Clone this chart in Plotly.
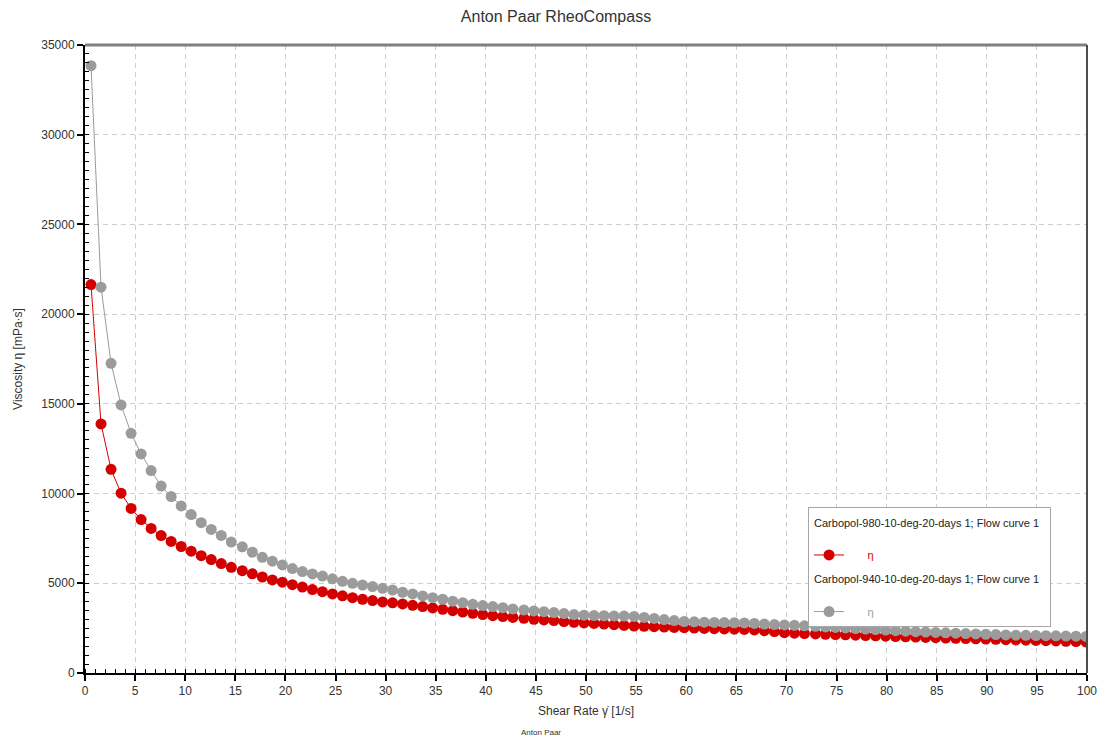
import plotly.graph_objects as go

# Shear rate [1/s]
shear_rate = [
    0.6, 1.6, 2.6, 3.6, 4.6, 5.6, 6.6, 7.6, 8.6, 9.6,
    10.6, 11.6, 12.6, 13.6, 14.6, 15.7, 16.7, 17.7, 18.7, 19.7,
    20.7, 21.7, 22.7, 23.7, 24.7, 25.7, 26.7, 27.7, 28.7, 29.7,
    30.7, 31.7, 32.7, 33.7, 34.7, 35.7, 36.7, 37.7, 38.7, 39.7,
    40.7, 41.7, 42.7, 43.8, 44.8, 45.8, 46.8, 47.8, 48.8, 49.8,
    50.8, 51.8, 52.8, 53.8, 54.8, 55.8, 56.8, 57.8, 58.8, 59.8,
    60.8, 61.8, 62.8, 63.8, 64.8, 65.8, 66.8, 67.8, 68.8, 69.8,
    70.8, 71.8, 72.9, 73.9, 74.9, 75.9, 76.9, 77.9, 78.9, 79.9,
    80.9, 81.9, 82.9, 83.9, 84.9, 85.9, 86.9, 87.9, 88.9, 89.9,
    90.9, 91.9, 92.9, 93.9, 94.9, 95.9, 96.9, 97.9, 98.9, 99.9,
]

# Viscosity [mPa·s], Carbopol-980
visc_980 = [
    21650, 13880, 11350, 10020, 9170, 8550, 8060, 7660, 7330, 7050,
    6790, 6540, 6320, 6100, 5890, 5700, 5530, 5350, 5190, 5060,
    4920, 4790, 4650, 4535, 4405, 4300, 4200, 4110, 4035, 3960,
    3910, 3850, 3775, 3700, 3625, 3550, 3475, 3400, 3330, 3255,
    3195, 3145, 3100, 3050, 2995, 2955, 2920, 2865, 2825, 2790,
    2765, 2730, 2690, 2650, 2620, 2600, 2580, 2560, 2540, 2525,
    2505, 2485, 2470, 2455, 2440, 2430, 2400, 2360, 2310, 2250,
    2220, 2200, 2180, 2160, 2145, 2130, 2110, 2090, 2070, 2050,
    2030, 2015, 2000, 1985, 1970, 1950, 1935, 1920, 1905, 1890,
    1875, 1860, 1845, 1830, 1815, 1800, 1785, 1770, 1750, 1730,
]

# Viscosity [mPa·s], Carbopol-940
visc_940 = [
    33850, 21500, 17260, 14940, 13360, 12210, 11280, 10420, 9830, 9310,
    8830, 8380, 8000, 7670, 7300, 7030, 6730, 6450, 6230, 6020,
    5820, 5650, 5520, 5400, 5250, 5110, 5000, 4905, 4815, 4720,
    4625, 4500, 4405, 4295, 4200, 4110, 4000, 3920, 3830, 3755,
    3700, 3640, 3570, 3515, 3460, 3420, 3365, 3310, 3255, 3220,
    3200, 3190, 3180, 3170, 3150, 3100, 3040, 2980, 2920, 2870,
    2850, 2835, 2820, 2810, 2800, 2790, 2760, 2730, 2700, 2680,
    2660, 2630, 2600, 2570, 2540, 2510, 2480, 2450, 2420, 2390,
    2360, 2330, 2300, 2280, 2260, 2240, 2220, 2200, 2180, 2160,
    2140, 2120, 2110, 2100, 2090, 2080, 2070, 2060, 2050, 2040,
]

series_names = [
    "Carbopol-980-10-deg-20-days 1; Flow curve 1",
    "Carbopol-940-10-deg-20-days 1; Flow curve 1",
]
series_colors = ["#d40000", "#9b9b9b"]
x_ticks = list(range(0, 101, 5))
y_ticks = list(range(0, 35001, 5000))

FONT = "Liberation Sans, Arial, sans-serif"

fig = go.Figure()
for name, vals, col in zip(series_names, [visc_980, visc_940], series_colors):
    fig.add_trace(go.Scatter(
        x=shear_rate, y=vals, mode="lines+markers",
        name='&nbsp;<br>' + '&nbsp;' * 6 + '<span style="color:%s">η</span>' % col,
        line=dict(color=col, width=1),
        marker=dict(color=col, size=11, line=dict(width=0)),
        legendgroup=name,
        legendgrouptitle=dict(text=name, font=dict(size=11, color="#222222", family=FONT)),
    ))

fig.update_layout(
    width=1112, height=740,
    paper_bgcolor="white", plot_bgcolor="white",
    margin=dict(l=85, r=25, t=45, b=67),
    font=dict(family=FONT, size=12, color="#333333"),
    title=dict(text="Anton Paar RheoCompass", x=0.5, xanchor="center",
               y=0.978, yanchor="middle", font=dict(size=16, color="#333333")),
    showlegend=True,
    legend=dict(
        x=0.7216, y=0.2643, xanchor="left", yanchor="top",
        bgcolor="white", bordercolor="#a6a6a6", borderwidth=1,
        font=dict(size=11, family=FONT),
        traceorder="grouped", tracegroupgap=6, itemwidth=30, valign="bottom",
    ),
    xaxis=dict(
        range=[0, 100], tickvals=x_ticks, ticks="outside", ticklen=6, tickwidth=2,
        tickcolor="black", showline=True, linecolor="black", linewidth=2,
        showgrid=True, gridcolor="#cdcdcd", griddash="5px,4px", gridwidth=1,
        zeroline=False,
        minor=dict(dtick=1, ticks="inside", ticklen=4, tickwidth=1, tickcolor="black", showgrid=False),
        title=dict(text="Shear Rate γ̇ [1/s]", font=dict(size=12), standoff=9),
        tickfont=dict(size=12),
    ),
    yaxis=dict(
        range=[0, 35000], tickvals=y_ticks, tickformat="d", ticks="outside", ticklen=6, tickwidth=2,
        tickcolor="black", showline=True, linecolor="black", linewidth=2,
        showgrid=True, gridcolor="#cdcdcd", griddash="5px,4px", gridwidth=1,
        zeroline=False,
        minor=dict(dtick=500, ticks="inside", ticklen=4, tickwidth=1, tickcolor="black", showgrid=False),
        title=dict(text="Viscosity η [mPa·s]", font=dict(size=12), standoff=16),
        tickfont=dict(size=12),
    ),
    shapes=[
        dict(type="line", xref="paper", yref="paper", x0=0, x1=1, y0=1, y1=1,
             line=dict(color="#808080", width=3)),
        dict(type="line", xref="paper", yref="paper", x0=1, x1=1, y0=0, y1=1,
             line=dict(color="#4d4d4d", width=2)),
    ],
    annotations=[
        dict(text="Anton Paar", xref="paper", yref="paper", x=0.455, y=-0.095,
             xanchor="center", yanchor="middle", showarrow=False,
             font=dict(size=8, color="#333333")),
    ],
)

fig.write_html("out.html")
